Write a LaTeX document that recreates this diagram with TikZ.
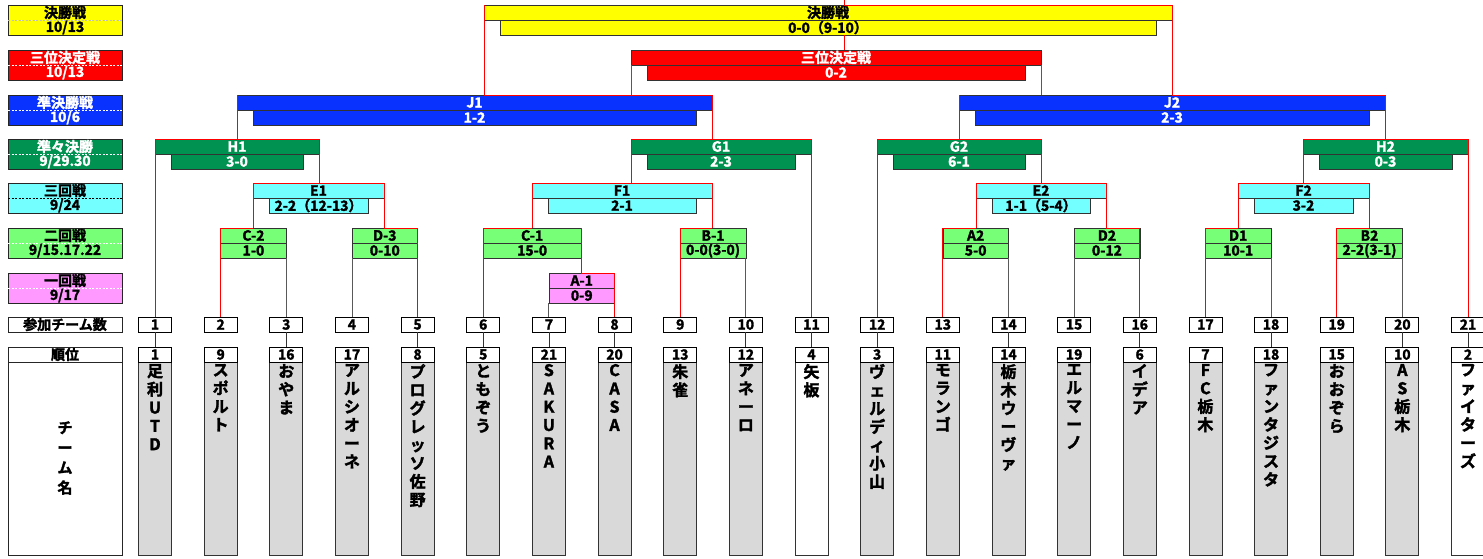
\documentclass[tikz,border=0pt]{standalone}
\usepackage{fontspec}
\setmainfont{Noto Sans CJK JP}[BoldFont={Noto Sans CJK JP Bold}, BoldFeatures={FakeBold=2}]
\usetikzlibrary{calc}
\definecolor{cyel}{RGB}{255,255,0}
\definecolor{cred}{RGB}{255,0,0}
\definecolor{cblu}{RGB}{10,50,255}
\definecolor{cgrn}{RGB}{0,146,80}
\definecolor{ccya}{RGB}{115,255,255}
\definecolor{clgr}{RGB}{119,255,119}
\definecolor{cpnk}{RGB}{255,153,255}
\definecolor{cgry}{RGB}{217,217,217}
\newcommand{\mf}{\fontsize{14}{14}\selectfont\bfseries}
\newcommand{\vf}{\fontsize{16}{18.3}\selectfont\bfseries}
\tikzset{
  mbox/.style={draw=black!80, line width=0.6pt, inner sep=0pt, outer sep=0pt, minimum height=15pt, font=\mf},
  lbox/.style={draw=black!85, line width=0.8pt, inner sep=0pt, outer sep=0pt, minimum width=114pt, minimum height=30pt},
  lbox1/.style={draw=black!85, line width=0.8pt, fill=white, inner sep=0pt, outer sep=0pt, minimum width=114pt, minimum height=15pt, font=\mf},
  ltxt/.style={inner sep=0pt, outer sep=0pt, font=\mf},
  ldash/.style={line width=0.6pt, dash pattern=on 2pt off 1.5pt},
  tbox/.style={draw=black, line width=0.8pt, fill=white, inner sep=0pt, outer sep=0pt, minimum width=33pt, minimum height=15pt, font=\mf},
  nbox/.style={draw=black!80, line width=0.8pt, inner sep=0pt, outer sep=0pt, minimum width=33pt, minimum height=193pt},
  vname/.style={inner sep=0pt, outer sep=0pt, align=center, font=\vf},
  win/.style={draw=red, line width=1pt},
  lose/.style={draw=black!65, line width=1pt},
  tline/.style={draw=black!80, line width=0.8pt},
}
\newcommand{\mkmatch}[9]{%
  \node[mbox,fill=#6,text=#7,minimum width={(#3-#2-2*#5)*1pt}] (#1s) at ({(#2+#3)/2},{#4+22.5}) {#9};
  \node[mbox,fill=#6,text=#7,minimum width={(#3-#2)*1pt}] (#1t) at ({(#2+#3)/2},{#4+7.5}) {#8};
}
\newcommand{\mklabel}[7]{%
  \node[lbox,fill=#3,anchor=north west] (#1) at (8,#2) {};
  \draw[ldash,draw=#5] (#1.west) -- (#1.east);
  \node[ltxt,text=#4] (#1a) at ($(#1.north)+(0,7.5)$) {#6};
  \node[ltxt,text=#4] (#1b) at ($(#1.south)+(0,-7.5)$) {#7};
}
\begin{document}
\begin{tikzpicture}[x=1pt,y=-1pt]
\useasboundingbox (0,0) rectangle (1483,558);
\fill[white] (0,0) rectangle (1483,558);

% left labels
\mklabel{L1}{5}{cyel}{black}{gray!50}{決勝戦}{10/13}
\mklabel{L2}{50}{cred}{white}{white}{三位決定戦}{10/13}
\mklabel{L3}{95}{cblu}{white}{white}{準決勝戦}{10/6}
\mklabel{L4}{139}{cgrn}{white}{white}{準々決勝}{9/29.30}
\mklabel{L5}{183}{ccya}{black}{black}{三回戦}{9/24}
\mklabel{L6}{228}{clgr}{black}{white}{二回戦}{9/15.17.22}
\mklabel{L7}{273}{cpnk}{black}{white}{一回戦}{9/17}
\node[lbox1,anchor=north west] (Lteam) at (8,317) {参加チーム数};
\node[lbox,fill=white,anchor=north west,minimum height=193pt] (Lname) at (8,362) {};
\node[lbox1,anchor=north west] (Lrank) at (8,347) {順位};
\node[vname,font=\fontsize{15}{20}\selectfont\bfseries] (Lnametxt) at (65,458) {チ\\ー\\ム\\名};

% team columns
\foreach \i/\rk/\nm/\bg in {
1/1/{足\\利\\U\\T\\D}/cgry,
2/9/{ス\\ポ\\ル\\ト}/cgry,
3/16/{お\\や\\ま}/cgry,
4/17/{ア\\ル\\シ\\オ\\ー\\ネ}/cgry,
5/8/{プ\\ロ\\グ\\レ\\ッ\\ソ\\佐\\野}/cgry,
6/5/{と\\も\\ぞ\\う}/cgry,
7/21/{S\\A\\K\\U\\R\\A}/cgry,
8/20/{C\\A\\S\\A}/cgry,
9/13/{朱\\雀}/cgry,
10/12/{ア\\ネ\\ー\\ロ}/cgry,
11/4/{矢\\板}/white,
12/3/{ヴ\\ェ\\ル\\デ\\ィ\\小\\山}/cgry,
13/11/{モ\\ラ\\ン\\ゴ}/cgry,
14/14/{栃\\木\\ウ\\ー\\ヴ\\ァ}/cgry,
15/19/{エ\\ル\\マ\\ー\\ノ}/cgry,
16/6/{イ\\デ\\ア}/cgry,
17/7/{F\\C\\栃\\木}/cgry,
18/18/{フ\\ァ\\ン\\タ\\ジ\\ス\\タ}/cgry,
19/15/{お\\お\\ぞ\\ら}/cgry,
20/10/{A\\S\\栃\\木}/cgry,
21/2/{フ\\ァ\\イ\\タ\\ー\\ズ}/white}
{
  \pgfmathsetmacro\xx{155+(\i-1)*65.65}
  \node[tbox] (t\i) at (\xx,324.5) {\i};
  \node[nbox,fill=\bg,anchor=north] (b\i) at (\xx,362) {};
  \node[tbox] (r\i) at (\xx,354.5) {\rk};
  \node[vname,anchor=north] (n\i) at (\xx,364) {\nm};
}
\foreach \i in {1,3,5,6,7,8,10,11,12,14,16,18,20,21}
  \draw[tline] (t\i.south) -- (r\i.north);

% matches
\mkmatch{F}{484}{1172}{5}{16}{cyel}{black}{決勝戦}{0-0（9-10）}
\mkmatch{T}{631}{1041}{50}{16}{cred}{white}{三位決定戦}{0-2}
\mkmatch{J1}{237}{712}{95}{16}{cblu}{white}{J1}{1-2}
\mkmatch{J2}{959}{1385}{95}{16}{cblu}{white}{J2}{2-3}
\mkmatch{H1}{155}{319}{139}{16}{cgrn}{white}{H1}{3-0}
\mkmatch{G1}{631}{811}{139}{16}{cgrn}{white}{G1}{2-3}
\mkmatch{G2}{877}{1041}{139}{16}{cgrn}{white}{G2}{6-1}
\mkmatch{H2}{1303}{1468}{139}{16}{cgrn}{white}{H2}{0-3}
\mkmatch{E1}{253}{384}{183}{16}{ccya}{black}{E1}{2-2（12-13）}
\mkmatch{F1}{532}{712}{183}{16}{ccya}{black}{F1}{2-1}
\mkmatch{E2}{976}{1106}{183}{16}{ccya}{black}{E2}{1-1（5-4）}
\mkmatch{F2}{1238}{1369}{183}{16}{ccya}{black}{F2}{3-2}
\mkmatch{C2}{220.6}{286.3}{228}{0}{clgr}{black}{C-2}{1-0}
\mkmatch{D3}{352}{417.6}{228}{0}{clgr}{black}{D-3}{0-10}
\mkmatch{C1}{483.3}{581}{228}{0}{clgr}{black}{C-1}{15-0}
\mkmatch{B1}{680.2}{745.9}{228}{0}{clgr}{black}{B-1}{0-0(3-0)}
\mkmatch{A2}{942.8}{1008.5}{228}{0}{clgr}{black}{A2}{5-0}
\mkmatch{D2}{1074.1}{1139.8}{228}{0}{clgr}{black}{D2}{0-12}
\mkmatch{D1}{1205.4}{1271}{228}{0}{clgr}{black}{D1}{10-1}
\mkmatch{B2}{1336.7}{1402.3}{228}{0}{clgr}{black}{B2}{2-2(3-1)}
\mkmatch{A1}{548.9}{614.6}{273}{0}{cpnk}{black}{A-1}{0-9}

% connectors
\coordinate (topend) at (844,0);
\draw[win] (topend) -- (topend |- Ft.north);
\draw[win] (topend |- Ft.north) -- (Ft.north east);
\draw[win] (topend |- Fs.south) -- (topend |- Tt.north);
\draw[win] (Ft.north west) -- (Ft.north west |- J1t.north);
\draw[win] (Ft.north east) -- (Ft.north east |- J2t.north);

\draw[lose] (Tt.south west) -- (Tt.south west |- J1t.north);
\draw[lose] (Tt.south east) -- (Tt.south east |- J2t.north);

\draw[win] (J1t.north west) -- (J1t.north west |- H1t.north);
\draw[win] (J1t.north east) -- (J1t.north east |- G1t.north);
\draw[win] (Ft.north west |- J1t.north) -- (J1t.north east);
\draw[win] (J2t.north west) -- (J2t.north west |- G2t.north);
\draw[win] (J2t.north east) -- (J2t.north east |- H2t.north);
\draw[win] (Ft.north east |- J2t.north) -- (J2t.north east);

\draw[win] (H1t.north west) -- (H1t.north west |- t1.north);
\draw[win] (H1t.north east) -- (H1t.north east |- E1t.north);
\draw[win] (H1t.north west) -- (H1t.north east);
\draw[win] (G1t.north west) -- (G1t.north west |- F1t.north);
\draw[win] (G1t.north east) -- (G1t.north east |- t11.north);
\draw[win] (G1t.north west) -- (G1t.north east);
\draw[win] (G2t.north west) -- (G2t.north west |- t12.north);
\draw[win] (G2t.north east) -- (G2t.north east |- E2t.north);
\draw[win] (G2t.north west) -- (G2t.north east);
\draw[win] (H2t.north west) -- (H2t.north west |- F2t.north);
\draw[win] (H2t.north east) -- (H2t.north east |- t21.north);
\draw[win] (H2t.north west) -- (H2t.north east);

\draw[win] (E1t.north west) -- (E1t.north west |- C2t.north);
\draw[win] (E1t.north east) -- (E1t.north east |- D3t.north);
\draw[win] (E1t.north west) -- (E1t.north east);
\draw[win] (F1t.north west) -- (F1t.north west |- C1t.north);
\draw[win] (F1t.north east) -- (F1t.north east |- B1t.north);
\draw[win] (F1t.north west) -- (F1t.north east);
\draw[win] (E2t.north west) -- (E2t.north west |- A2t.north);
\draw[win] (E2t.north east) -- (E2t.north east |- D2t.north);
\draw[win] (E2t.north west) -- (E2t.north east);
\draw[win] (F2t.north west) -- (F2t.north west |- D1t.north);
\draw[win] (F2t.north east) -- (F2t.north east |- B2t.north);
\draw[win] (F2t.north west) -- (F2t.north east);

\draw[win] (C2t.north west) -- (C2t.north west |- t2.north);
\draw[lose] (C2s.south east) -- (C2s.south east |- t3.north);
\draw[win] (C2t.north west) -- (E1t.north west |- C2t.north);
\draw[lose] (D3s.south west) -- (D3s.south west |- t4.north);
\draw[win] (D3t.north east) -- (D3t.north east |- t5.north);
\draw[win] (E1t.north east |- D3t.north) -- (D3t.north east);
\draw[win] (C1t.north west) -- (C1t.north west |- t6.north);
\draw[win] (C1t.north east) -- (C1t.north east |- A1t.north);
\draw[win] (C1t.north west) -- (F1t.north west |- C1t.north);
\draw[win] (B1t.north west) -- (B1t.north west |- t9.north);
\draw[lose] (B1s.south east) -- (B1s.south east |- t10.north);
\draw[win] (B1t.north west) -- (F1t.north east |- B1t.north);
\draw[win] (A2t.north west) -- (A2t.north west |- t13.north);
\draw[lose] (A2s.south east) -- (A2s.south east |- t14.north);
\draw[win] (A2t.north west) -- (E2t.north west |- A2t.north);
\draw[lose] (D2s.south west) -- (D2s.south west |- t15.north);
\draw[win] (D2t.north east) -- (D2t.north east |- t16.north);
\draw[win] (E2t.north east |- D2t.north) -- (D2t.north east);
\draw[win] (D1t.north west) -- (D1t.north west |- t17.north);
\draw[lose] (D1s.south east) -- (D1s.south east |- t18.north);
\draw[win] (D1t.north west) -- (F2t.north west |- D1t.north);
\draw[win] (B2t.north west) -- (B2t.north west |- t19.north);
\draw[lose] (B2s.south east) -- (B2s.south east |- t20.north);
\draw[win] (B2t.north west) -- (F2t.north east |- B2t.north);
\draw[lose] (A1s.south west) -- (A1s.south west |- t7.north);
\draw[win] (A1t.north east) -- (A1t.north east |- t8.north);
\draw[win] (C1t.north east |- A1t.north) -- (A1t.north east);
\end{tikzpicture}
\end{document}
